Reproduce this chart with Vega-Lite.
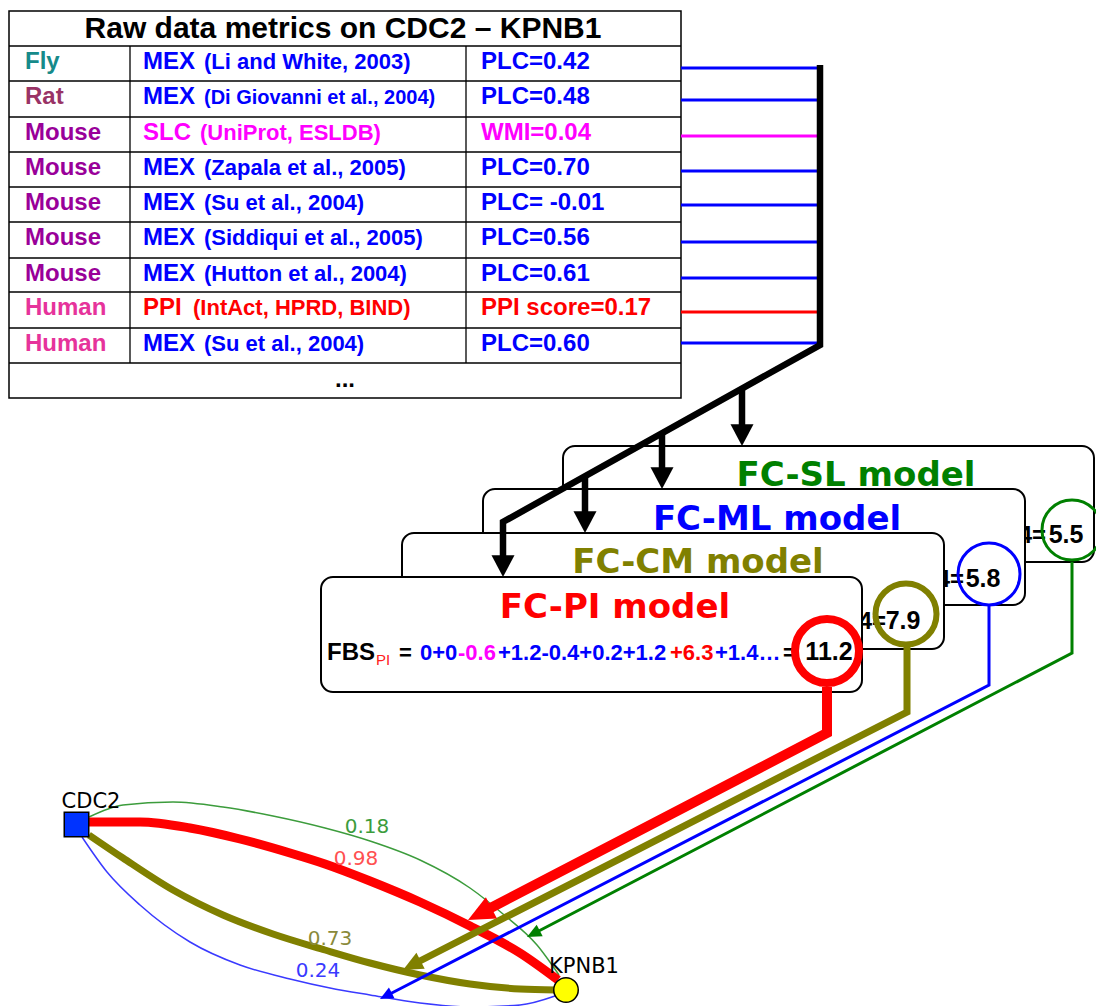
{
  "$schema": "https://vega.github.io/schema/vega-lite/v6.json",
  "width": 1096,
  "height": 1006,
  "padding": 0,
  "autosize": {"type": "none"},
  "background": "white",
  "config": {"view": {"stroke": null}},
  "datasets": {
    "frame": [{"x": 9, "x2": 681, "y": 11, "y2": 398}],
    "tlines": [
      {"x": 9, "x2": 681, "y": 46, "y2": 46},
      {"x": 9, "x2": 681, "y": 81, "y2": 81},
      {"x": 9, "x2": 681, "y": 117, "y2": 117},
      {"x": 9, "x2": 681, "y": 152, "y2": 152},
      {"x": 9, "x2": 681, "y": 187, "y2": 187},
      {"x": 9, "x2": 681, "y": 222, "y2": 222},
      {"x": 9, "x2": 681, "y": 258, "y2": 258},
      {"x": 9, "x2": 681, "y": 292, "y2": 292},
      {"x": 9, "x2": 681, "y": 328, "y2": 328},
      {"x": 9, "x2": 681, "y": 363, "y2": 363},
      {"x": 130, "x2": 130, "y": 46, "y2": 363},
      {"x": 466, "x2": 466, "y": 46, "y2": 363}
    ],
    "heading": [{"text": "Raw data metrics on CDC2 – KPNB1", "x": 343, "y": 38}],
    "ellipsis": [{"text": "...", "x": 345, "y": 387}],
    "cells": [
      {"r": 1, "part": "species", "text": "Fly", "cat": "Fly", "x": 25, "y": 69},
      {"r": 1, "part": "method", "text": "MEX", "cat": "MEX", "x": 143, "y": 69},
      {"r": 1, "part": "cite", "text": "(Li and White, 2003)", "cat": "MEX", "x": 204, "y": 69},
      {"r": 1, "part": "metric", "text": "PLC=0.42", "cat": "MEX", "x": 481, "y": 69},
      {"r": 2, "part": "species", "text": "Rat", "cat": "Rat", "x": 25, "y": 104},
      {"r": 2, "part": "method", "text": "MEX", "cat": "MEX", "x": 143, "y": 104},
      {"r": 2, "part": "cite", "text": "(Di Giovanni et al., 2004)", "cat": "MEX", "x": 204, "y": 104},
      {"r": 2, "part": "metric", "text": "PLC=0.48", "cat": "MEX", "x": 481, "y": 104},
      {"r": 3, "part": "species", "text": "Mouse", "cat": "Mouse", "x": 25, "y": 140},
      {"r": 3, "part": "method", "text": "SLC", "cat": "SLC", "x": 143, "y": 140},
      {"r": 3, "part": "cite", "text": "(UniProt, ESLDB)", "cat": "SLC", "x": 200, "y": 140},
      {"r": 3, "part": "metric", "text": "WMI=0.04", "cat": "SLC", "x": 481, "y": 140},
      {"r": 4, "part": "species", "text": "Mouse", "cat": "Mouse", "x": 25, "y": 175},
      {"r": 4, "part": "method", "text": "MEX", "cat": "MEX", "x": 143, "y": 175},
      {"r": 4, "part": "cite", "text": "(Zapala et al., 2005)", "cat": "MEX", "x": 204, "y": 175},
      {"r": 4, "part": "metric", "text": "PLC=0.70", "cat": "MEX", "x": 481, "y": 175},
      {"r": 5, "part": "species", "text": "Mouse", "cat": "Mouse", "x": 25, "y": 210},
      {"r": 5, "part": "method", "text": "MEX", "cat": "MEX", "x": 143, "y": 210},
      {"r": 5, "part": "cite", "text": "(Su et al., 2004)", "cat": "MEX", "x": 204, "y": 210},
      {"r": 5, "part": "metric", "text": "PLC= -0.01", "cat": "MEX", "x": 481, "y": 210},
      {"r": 6, "part": "species", "text": "Mouse", "cat": "Mouse", "x": 25, "y": 245},
      {"r": 6, "part": "method", "text": "MEX", "cat": "MEX", "x": 143, "y": 245},
      {"r": 6, "part": "cite", "text": "(Siddiqui et al., 2005)", "cat": "MEX", "x": 204, "y": 245},
      {"r": 6, "part": "metric", "text": "PLC=0.56", "cat": "MEX", "x": 481, "y": 245},
      {"r": 7, "part": "species", "text": "Mouse", "cat": "Mouse", "x": 25, "y": 281},
      {"r": 7, "part": "method", "text": "MEX", "cat": "MEX", "x": 143, "y": 281},
      {"r": 7, "part": "cite", "text": "(Hutton et al., 2004)", "cat": "MEX", "x": 204, "y": 281},
      {"r": 7, "part": "metric", "text": "PLC=0.61", "cat": "MEX", "x": 481, "y": 281},
      {"r": 8, "part": "species", "text": "Human", "cat": "Human", "x": 25, "y": 315},
      {"r": 8, "part": "method", "text": "PPI", "cat": "PPI", "x": 143, "y": 315},
      {"r": 8, "part": "cite", "text": "(IntAct, HPRD, BIND)", "cat": "PPI", "x": 193, "y": 315},
      {"r": 8, "part": "metric", "text": "PPI score=0.17", "cat": "PPI", "x": 481, "y": 315},
      {"r": 9, "part": "species", "text": "Human", "cat": "Human", "x": 25, "y": 351},
      {"r": 9, "part": "method", "text": "MEX", "cat": "MEX", "x": 143, "y": 351},
      {"r": 9, "part": "cite", "text": "(Su et al., 2004)", "cat": "MEX", "x": 204, "y": 351},
      {"r": 9, "part": "metric", "text": "PLC=0.60", "cat": "MEX", "x": 481, "y": 351}
    ],
    "ticks": [
      {"kind": "MEX", "x": 681, "x2": 820, "y": 68},
      {"kind": "MEX", "x": 681, "x2": 820, "y": 100},
      {"kind": "SLC", "x": 681, "x2": 820, "y": 136},
      {"kind": "MEX", "x": 681, "x2": 820, "y": 171},
      {"kind": "MEX", "x": 681, "x2": 820, "y": 205},
      {"kind": "MEX", "x": 681, "x2": 820, "y": 242},
      {"kind": "MEX", "x": 681, "x2": 820, "y": 278},
      {"kind": "PPI", "x": 681, "x2": 820, "y": 312},
      {"kind": "MEX", "x": 681, "x2": 820, "y": 343}
    ],
    "boxes": [
      {"model": "SL", "title": "FC-SL model", "x": 563, "x2": 1094, "y": 446, "y2": 562, "cx": 856, "cy": 486, "tail": "+1.4=", "tx": 1046, "ty": 543},
      {"model": "ML", "title": "FC-ML model", "x": 483, "x2": 1025, "y": 489, "y2": 605, "cx": 777, "cy": 530, "tail": "+1.4=", "tx": 964, "ty": 587},
      {"model": "CM", "title": "FC-CM model", "x": 402, "x2": 944, "y": 533, "y2": 649, "cx": 698, "cy": 573, "tail": "+1.4=", "tx": 886, "ty": 629},
      {"model": "PI", "title": "FC-PI model", "x": 321, "x2": 862, "y": 577, "y2": 692, "cx": 615, "cy": 618, "tail": "", "tx": 800, "ty": 660}
    ],
    "formula": [
      {"part": "=", "src": "none", "x": 399, "y": 660},
      {"part": "0+0", "src": "MEX", "x": 420, "y": 660},
      {"part": "-0.6", "src": "SLC", "x": 458, "y": 660},
      {"part": "+1.2-0.4+0.2+1.2", "src": "MEX", "x": 498, "y": 660},
      {"part": "+6.3", "src": "PPI", "x": 670, "y": 660},
      {"part": "+1.4…", "src": "MEX", "x": 715, "y": 660},
      {"part": "=", "src": "none", "x": 783, "y": 660}
    ],
    "fbs": [{"part": "FBS", "x": 327, "y": 660}],
    "sub": [{"part": "PI", "x": 376, "y": 665}],
    "circles": [
      {"model": "SL", "x": 1072, "y": 530, "val": "5.5", "vx": 1066, "vy": 543},
      {"model": "ML", "x": 989, "y": 574, "val": "5.8", "vx": 983, "vy": 587},
      {"model": "CM", "x": 906, "y": 614, "val": "7.9", "vx": 903, "vy": 629},
      {"model": "PI", "x": 827, "y": 651, "val": "11.2", "vx": 829, "vy": 660}
    ],
    "bus": [
      {"id": "bus", "i": 0, "x": 820, "y": 65},
      {"id": "bus", "i": 1, "x": 820, "y": 345},
      {"id": "bus", "i": 2, "x": 503, "y": 522},
      {"id": "bus", "i": 3, "x": 503, "y": 560},
      {"id": "b1", "i": 0, "x": 742, "y": 389},
      {"id": "b1", "i": 1, "x": 742, "y": 430},
      {"id": "b2", "i": 0, "x": 662, "y": 433},
      {"id": "b2", "i": 1, "x": 662, "y": 472},
      {"id": "b3", "i": 0, "x": 585, "y": 476},
      {"id": "b3", "i": 1, "x": 585, "y": 516}
    ],
    "heads": [
      {"x": 503, "y": 577},
      {"x": 742, "y": 446},
      {"x": 662, "y": 489},
      {"x": 585, "y": 533}
    ],
    "edges": [
      {"model": "ML", "i": 0, "x": 82, "y": 837},
      {"model": "ML", "i": 1, "x": 107, "y": 872},
      {"model": "ML", "i": 2, "x": 140, "y": 905},
      {"model": "ML", "i": 3, "x": 190, "y": 942},
      {"model": "ML", "i": 4, "x": 240, "y": 965},
      {"model": "ML", "i": 5, "x": 290, "y": 979},
      {"model": "ML", "i": 6, "x": 330, "y": 988},
      {"model": "ML", "i": 7, "x": 370, "y": 995},
      {"model": "ML", "i": 8, "x": 420, "y": 1003},
      {"model": "ML", "i": 9, "x": 470, "y": 1007},
      {"model": "ML", "i": 10, "x": 520, "y": 1005},
      {"model": "ML", "i": 11, "x": 555, "y": 996},
      {"model": "SL", "i": 0, "x": 89, "y": 817},
      {"model": "SL", "i": 1, "x": 123, "y": 805},
      {"model": "SL", "i": 2, "x": 173, "y": 802},
      {"model": "SL", "i": 3, "x": 223, "y": 807},
      {"model": "SL", "i": 4, "x": 273, "y": 816},
      {"model": "SL", "i": 5, "x": 325, "y": 828},
      {"model": "SL", "i": 6, "x": 370, "y": 841},
      {"model": "SL", "i": 7, "x": 420, "y": 860},
      {"model": "SL", "i": 8, "x": 470, "y": 888},
      {"model": "SL", "i": 9, "x": 503, "y": 914},
      {"model": "SL", "i": 10, "x": 537, "y": 945},
      {"model": "SL", "i": 11, "x": 559, "y": 975},
      {"model": "CM", "i": 0, "x": 89, "y": 835},
      {"model": "CM", "i": 1, "x": 123, "y": 858},
      {"model": "CM", "i": 2, "x": 173, "y": 890},
      {"model": "CM", "i": 3, "x": 223, "y": 915},
      {"model": "CM", "i": 4, "x": 273, "y": 934},
      {"model": "CM", "i": 5, "x": 325, "y": 950},
      {"model": "CM", "i": 6, "x": 370, "y": 963},
      {"model": "CM", "i": 7, "x": 420, "y": 975},
      {"model": "CM", "i": 8, "x": 470, "y": 984},
      {"model": "CM", "i": 9, "x": 520, "y": 989},
      {"model": "CM", "i": 10, "x": 556, "y": 990},
      {"model": "PI", "i": 0, "x": 89, "y": 822},
      {"model": "PI", "i": 1, "x": 140, "y": 822},
      {"model": "PI", "i": 2, "x": 190, "y": 828},
      {"model": "PI", "i": 3, "x": 240, "y": 839},
      {"model": "PI", "i": 4, "x": 290, "y": 853},
      {"model": "PI", "i": 5, "x": 325, "y": 864},
      {"model": "PI", "i": 6, "x": 370, "y": 881},
      {"model": "PI", "i": 7, "x": 420, "y": 902},
      {"model": "PI", "i": 8, "x": 470, "y": 926},
      {"model": "PI", "i": 9, "x": 520, "y": 953},
      {"model": "PI", "i": 10, "x": 558, "y": 980}
    ],
    "edgeLabels": [
      {"model": "SL", "score": "0.18", "x": 367, "y": 833},
      {"model": "PI", "score": "0.98", "x": 356, "y": 865},
      {"model": "CM", "score": "0.73", "x": 330, "y": 945},
      {"model": "ML", "score": "0.24", "x": 318, "y": 977}
    ],
    "nodes": [
      {"name": "CDC2", "x": 76.5, "y": 824.5, "lx": 91, "ly": 808},
      {"name": "KPNB1", "x": 566, "y": 990, "lx": 584, "ly": 973}
    ],
    "links": [
      {"model": "PI", "i": 0, "x": 827, "y": 687},
      {"model": "PI", "i": 1, "x": 827, "y": 733},
      {"model": "PI", "i": 2, "x": 481, "y": 913},
      {"model": "CM", "i": 0, "x": 907, "y": 647},
      {"model": "CM", "i": 1, "x": 907, "y": 712},
      {"model": "CM", "i": 2, "x": 414, "y": 964},
      {"model": "ML", "i": 0, "x": 989, "y": 605},
      {"model": "ML", "i": 1, "x": 989, "y": 685},
      {"model": "ML", "i": 2, "x": 386, "y": 996},
      {"model": "SL", "i": 0, "x": 1072, "y": 562},
      {"model": "SL", "i": 1, "x": 1072, "y": 653},
      {"model": "SL", "i": 2, "x": 533, "y": 934}
    ],
    "tips": [
      {"model": "PI", "x": 468, "y": 920},
      {"model": "CM", "x": 403, "y": 970},
      {"model": "ML", "x": 380, "y": 999},
      {"model": "SL", "x": 527, "y": 937}
    ]
  },
  "encoding": {
    "x": {"field": "x", "type": "quantitative", "scale": {"domain": [0, 1096], "nice": false, "zero": false}, "axis": null},
    "y": {"field": "y", "type": "quantitative", "scale": {"domain": [0, 1006], "nice": false, "zero": false, "reverse": true}, "axis": null}
  },
  "resolve": {"scale": {"color": "independent", "fill": "independent", "shape": "independent"}},
  "layer": [
    {"data": {"name": "frame"}, "mark": {"type": "rect", "fill": "white", "stroke": "black", "strokeWidth": 1.5}, "encoding": {"x2": {"field": "x2"}, "y2": {"field": "y2"}}},
    {"data": {"name": "tlines"}, "mark": {"type": "rule", "stroke": "black", "strokeWidth": 1.3}, "encoding": {"x2": {"field": "x2"}, "y2": {"field": "y2"}}},
    {"data": {"name": "heading"}, "mark": {"type": "text", "font": "Liberation Sans", "fontWeight": "bold", "fontSize": 30, "align": "center", "baseline": "alphabetic", "color": "black"}, "encoding": {"text": {"field": "text"}}},
    {"data": {"name": "cells"}, "transform": [{"filter": "datum.part !== 'cite'"}], "mark": {"type": "text", "font": "Liberation Sans", "fontWeight": "bold", "fontSize": 24, "align": "left", "baseline": "alphabetic"},
     "encoding": {"text": {"field": "text"},
       "color": {"field": "cat", "type": "nominal", "scale": {"domain": ["Fly", "Rat", "Mouse", "Human", "MEX", "SLC", "PPI"], "range": ["#168a8a", "#993366", "#990099", "#e6339b", "#0000ff", "#ff00ff", "#ff0000"]}, "legend": null}}},
    {"data": {"name": "cells"}, "transform": [{"filter": "datum.part === 'cite' && datum.r !== 2"}], "mark": {"type": "text", "font": "Liberation Sans", "fontWeight": "bold", "fontSize": 22, "align": "left", "baseline": "alphabetic"},
     "encoding": {"text": {"field": "text"},
       "color": {"field": "cat", "type": "nominal", "scale": {"domain": ["Fly", "Rat", "Mouse", "Human", "MEX", "SLC", "PPI"], "range": ["#168a8a", "#993366", "#990099", "#e6339b", "#0000ff", "#ff00ff", "#ff0000"]}, "legend": null}}},
    {"data": {"name": "cells"}, "transform": [{"filter": "datum.part === 'cite' && datum.r === 2"}], "mark": {"type": "text", "font": "Liberation Sans", "fontWeight": "bold", "fontSize": 20, "align": "left", "baseline": "alphabetic"},
     "encoding": {"text": {"field": "text"},
       "color": {"field": "cat", "type": "nominal", "scale": {"domain": ["Fly", "Rat", "Mouse", "Human", "MEX", "SLC", "PPI"], "range": ["#168a8a", "#993366", "#990099", "#e6339b", "#0000ff", "#ff00ff", "#ff0000"]}, "legend": null}}},
    {"data": {"name": "ellipsis"}, "mark": {"type": "text", "font": "Liberation Sans", "fontWeight": "bold", "fontSize": 24, "align": "center", "baseline": "alphabetic", "color": "black"}, "encoding": {"text": {"field": "text"}}},
    {"data": {"name": "ticks"}, "mark": {"type": "rule", "strokeWidth": 3},
     "encoding": {"x2": {"field": "x2"},
       "color": {"field": "kind", "type": "nominal", "scale": {"domain": ["MEX", "SLC", "PPI"], "range": ["#0000ff", "#ff00ff", "#ff0000"]}, "legend": null}}},

    {"data": {"name": "boxes"}, "transform": [{"filter": "datum.model === 'SL'"}], "mark": {"type": "rect", "fill": "white", "stroke": "black", "strokeWidth": 2, "cornerRadius": 12}, "encoding": {"x2": {"field": "x2"}, "y2": {"field": "y2"}}},
    {"data": {"name": "boxes"}, "transform": [{"filter": "datum.model === 'SL'"}], "mark": {"type": "text", "font": "Liberation Sans", "fontWeight": "bold", "fontSize": 24, "align": "right", "baseline": "alphabetic", "color": "black"}, "encoding": {"x": {"field": "tx", "type": "quantitative"}, "y": {"field": "ty", "type": "quantitative"}, "text": {"field": "tail"}}},
    {"data": {"name": "boxes"}, "transform": [{"filter": "datum.model === 'ML'"}], "mark": {"type": "rect", "fill": "white", "stroke": "black", "strokeWidth": 2, "cornerRadius": 12}, "encoding": {"x2": {"field": "x2"}, "y2": {"field": "y2"}}},
    {"data": {"name": "boxes"}, "transform": [{"filter": "datum.model === 'ML'"}], "mark": {"type": "text", "font": "Liberation Sans", "fontWeight": "bold", "fontSize": 24, "align": "right", "baseline": "alphabetic", "color": "black"}, "encoding": {"x": {"field": "tx", "type": "quantitative"}, "y": {"field": "ty", "type": "quantitative"}, "text": {"field": "tail"}}},
    {"data": {"name": "boxes"}, "transform": [{"filter": "datum.model === 'CM'"}], "mark": {"type": "rect", "fill": "white", "stroke": "black", "strokeWidth": 2, "cornerRadius": 12}, "encoding": {"x2": {"field": "x2"}, "y2": {"field": "y2"}}},
    {"data": {"name": "boxes"}, "transform": [{"filter": "datum.model === 'CM'"}], "mark": {"type": "text", "font": "Liberation Sans", "fontWeight": "bold", "fontSize": 24, "align": "right", "baseline": "alphabetic", "color": "black"}, "encoding": {"x": {"field": "tx", "type": "quantitative"}, "y": {"field": "ty", "type": "quantitative"}, "text": {"field": "tail"}}},
    {"data": {"name": "boxes"}, "transform": [{"filter": "datum.model === 'PI'"}], "mark": {"type": "rect", "fill": "white", "stroke": "black", "strokeWidth": 2, "cornerRadius": 12}, "encoding": {"x2": {"field": "x2"}, "y2": {"field": "y2"}}},

    {"data": {"name": "boxes"}, "mark": {"type": "text", "font": "DejaVu Sans", "fontWeight": "bold", "fontSize": 34, "align": "center", "baseline": "alphabetic"},
     "encoding": {"x": {"field": "cx", "type": "quantitative"}, "y": {"field": "cy", "type": "quantitative"}, "text": {"field": "title"},
       "color": {"field": "model", "type": "nominal", "scale": {"domain": ["SL", "ML", "CM", "PI"], "range": ["#008000", "#0000ff", "#808000", "#ff0000"]}, "legend": null}}},
    {"data": {"name": "fbs"}, "mark": {"type": "text", "font": "Liberation Sans", "fontWeight": "bold", "fontSize": 24, "align": "left", "baseline": "alphabetic", "color": "black"}, "encoding": {"text": {"field": "part"}}},
    {"data": {"name": "formula"}, "mark": {"type": "text", "font": "Liberation Sans", "fontWeight": "bold", "fontSize": 22, "align": "left", "baseline": "alphabetic"},
     "encoding": {"text": {"field": "part"},
       "color": {"field": "src", "type": "nominal", "scale": {"domain": ["none", "MEX", "SLC", "PPI"], "range": ["#000000", "#0000ff", "#ff00ff", "#ff0000"]}, "legend": null}}},
    {"data": {"name": "sub"}, "mark": {"type": "text", "font": "Liberation Sans", "fontSize": 15, "align": "left", "baseline": "alphabetic", "color": "#ff2020"}, "encoding": {"text": {"field": "part"}}},

    {"data": {"name": "circles"}, "transform": [{"filter": "datum.model === 'SL'"}], "mark": {"type": "point", "shape": "circle", "filled": false, "opacity": 1, "color": "#008000", "strokeWidth": 3, "size": 3600}},
    {"data": {"name": "circles"}, "transform": [{"filter": "datum.model === 'ML'"}], "mark": {"type": "point", "shape": "circle", "filled": false, "opacity": 1, "color": "#0000ff", "strokeWidth": 3, "size": 3844}},
    {"data": {"name": "circles"}, "transform": [{"filter": "datum.model === 'CM'"}], "mark": {"type": "point", "shape": "circle", "filled": false, "opacity": 1, "color": "#808000", "strokeWidth": 6, "size": 3721}},
    {"data": {"name": "circles"}, "transform": [{"filter": "datum.model === 'PI'"}], "mark": {"type": "point", "shape": "circle", "filled": false, "opacity": 1, "color": "#ff0000", "strokeWidth": 8, "size": 4096}},
    {"data": {"name": "circles"}, "mark": {"type": "text", "font": "Liberation Sans", "fontWeight": "bold", "fontSize": 25, "align": "center", "baseline": "alphabetic", "color": "black"},
     "encoding": {"x": {"field": "vx", "type": "quantitative"}, "y": {"field": "vy", "type": "quantitative"}, "text": {"field": "val"}}},

    {"data": {"name": "bus"}, "mark": {"type": "line", "color": "black", "strokeWidth": 6.5, "strokeJoin": "miter"},
     "encoding": {"detail": {"field": "id", "type": "nominal"}, "order": {"field": "i", "type": "quantitative"}}},
    {"data": {"name": "heads"}, "mark": {"type": "point", "shape": "M0,0L-1,-1.9L1,-1.9Z", "filled": true, "color": "black", "opacity": 1, "size": 529}},

    {"data": {"name": "edges"}, "transform": [{"filter": "datum.model === 'ML' || datum.model === 'SL'"}], "mark": {"type": "line", "interpolate": "monotone", "strokeWidth": 1.5},
     "encoding": {"detail": {"field": "model", "type": "nominal"}, "order": {"field": "i", "type": "quantitative"},
       "color": {"field": "model", "type": "nominal", "scale": {"domain": ["SL", "ML"], "range": ["#3c9c3c", "#3a3aff"]}, "legend": null}}},
    {"data": {"name": "edges"}, "transform": [{"filter": "datum.model === 'CM'"}], "mark": {"type": "line", "interpolate": "monotone", "strokeWidth": 7, "color": "#808000"},
     "encoding": {"order": {"field": "i", "type": "quantitative"}}},
    {"data": {"name": "edges"}, "transform": [{"filter": "datum.model === 'PI'"}], "mark": {"type": "line", "interpolate": "monotone", "strokeWidth": 9, "color": "#ff0000"},
     "encoding": {"order": {"field": "i", "type": "quantitative"}}},
    {"data": {"name": "edgeLabels"}, "mark": {"type": "text", "font": "DejaVu Sans", "fontSize": 20, "align": "center", "baseline": "alphabetic"},
     "encoding": {"text": {"field": "score"},
       "color": {"field": "model", "type": "nominal", "scale": {"domain": ["SL", "ML", "CM", "PI"], "range": ["#3c9c3c", "#3a3aff", "#8a8a3a", "#ff5050"]}, "legend": null}}},
    {"data": {"name": "nodes"}, "mark": {"type": "point", "filled": true, "opacity": 1, "stroke": "black", "strokeWidth": 1.5},
     "encoding": {
       "shape": {"field": "name", "type": "nominal", "scale": {"domain": ["CDC2", "KPNB1"], "range": ["square", "circle"]}, "legend": null},
       "fill": {"field": "name", "type": "nominal", "scale": {"domain": ["CDC2", "KPNB1"], "range": ["#0033ff", "#ffff00"]}, "legend": null},
       "size": {"value": 600}}},
    {"data": {"name": "nodes"}, "mark": {"type": "text", "font": "DejaVu Sans", "fontSize": 21, "align": "center", "baseline": "alphabetic", "color": "black"},
     "encoding": {"x": {"field": "lx", "type": "quantitative"}, "y": {"field": "ly", "type": "quantitative"}, "text": {"field": "name"}}},

    {"data": {"name": "links"}, "transform": [{"filter": "datum.model === 'ML' || datum.model === 'SL'"}], "mark": {"type": "line", "strokeJoin": "miter", "strokeWidth": 3},
     "encoding": {"detail": {"field": "model", "type": "nominal"}, "order": {"field": "i", "type": "quantitative"},
       "color": {"field": "model", "type": "nominal", "scale": {"domain": ["SL", "ML"], "range": ["#008000", "#0000ff"]}, "legend": null}}},
    {"data": {"name": "links"}, "transform": [{"filter": "datum.model === 'CM'"}], "mark": {"type": "line", "strokeJoin": "miter", "strokeWidth": 7, "color": "#808000"},
     "encoding": {"order": {"field": "i", "type": "quantitative"}}},
    {"data": {"name": "links"}, "transform": [{"filter": "datum.model === 'PI'"}], "mark": {"type": "line", "strokeJoin": "miter", "strokeWidth": 10, "color": "#ff0000"},
     "encoding": {"order": {"field": "i", "type": "quantitative"}}},
    {"data": {"name": "tips"}, "transform": [{"filter": "datum.model === 'SL'"}], "mark": {"type": "point", "shape": "M0,0L-1,-2.2L1,-2.2Z", "filled": true, "opacity": 1, "angle": 62.5, "color": "#008000", "size": 169}},
    {"data": {"name": "tips"}, "transform": [{"filter": "datum.model === 'ML'"}], "mark": {"type": "point", "shape": "M0,0L-1,-2.2L1,-2.2Z", "filled": true, "opacity": 1, "angle": 62.5, "color": "#0000ff", "size": 144}},
    {"data": {"name": "tips"}, "transform": [{"filter": "datum.model === 'CM'"}], "mark": {"type": "point", "shape": "M0,0L-1,-2.2L1,-2.2Z", "filled": true, "opacity": 1, "angle": 62.5, "color": "#808000", "size": 324}},
    {"data": {"name": "tips"}, "transform": [{"filter": "datum.model === 'PI'"}], "mark": {"type": "point", "shape": "M0,0L-1,-2.2L1,-2.2Z", "filled": true, "opacity": 1, "angle": 62.5, "color": "#ff0000", "size": 576}}
  ]
}
